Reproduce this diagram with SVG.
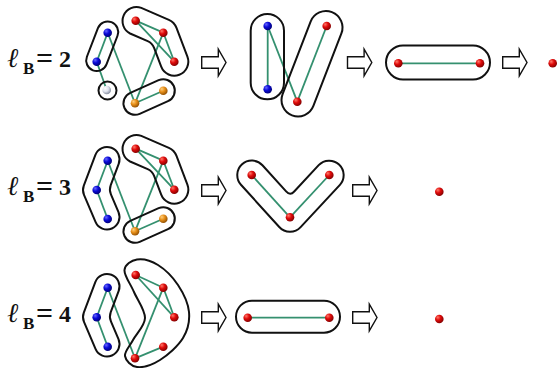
<svg xmlns="http://www.w3.org/2000/svg" width="558" height="368" viewBox="0 0 558 368">
  <defs>
    <radialGradient id="gR" cx="0.38" cy="0.35" r="0.7" fx="0.32" fy="0.3">
      <stop offset="0" stop-color="#ff7a6a"/>
      <stop offset="0.45" stop-color="#e00a0a"/>
      <stop offset="1" stop-color="#7a0000"/>
    </radialGradient>
    <radialGradient id="gB" cx="0.38" cy="0.35" r="0.7" fx="0.32" fy="0.3">
      <stop offset="0" stop-color="#6a6aff"/>
      <stop offset="0.45" stop-color="#0a0ad8"/>
      <stop offset="1" stop-color="#00006e"/>
    </radialGradient>
    <radialGradient id="gO" cx="0.38" cy="0.35" r="0.7" fx="0.32" fy="0.3">
      <stop offset="0" stop-color="#ffd080"/>
      <stop offset="0.45" stop-color="#e8901a"/>
      <stop offset="1" stop-color="#8a4a00"/>
    </radialGradient>
    <radialGradient id="gW" cx="0.38" cy="0.35" r="0.7" fx="0.32" fy="0.3">
      <stop offset="0" stop-color="#ffffff"/>
      <stop offset="0.5" stop-color="#dfe3ee"/>
      <stop offset="1" stop-color="#7c8496"/>
    </radialGradient>
    <!-- hollow block arrow between renormalisation steps -->
    <path id="step" d="M0,-5.8 H16.6 V-13.3 L24.3,0 L16.6,13.3 V5.8 H0 Z"/>
    <!-- bent three-box cluster (row 1 / row 2) -->
    <path id="bend3" d="M130.1,33.5 A14,14 0 0 1 141.3,7.9 L168.9,19.9 A14,14 0 0 1 176.4,27.7 L187.4,56.7 A14,14 0 0 1 161.2,66.7 L154.1,47.8 Q152.3,43.1 147.7,41.1 Z"/>
    <!-- crescent three-box cluster (row 2 / row 3) -->
    <path id="cres3" d="M95.30,155.09 L83.80,185.59 A12.5,12.5 0 0 0 84.00,194.90 L95.50,221.90 A12.5,12.5 0 0 0 118.50,212.10 L110.93,194.31 Q108.97,189.71 110.73,185.03 L118.70,163.91 A12.5,12.5 0 0 0 95.30,155.09 Z"/>
  </defs>
  <style>
    .hull{fill:none;stroke:#111;stroke-width:2}
    .edge{stroke:#34906f;stroke-width:1.8;fill:none}
    .step{fill:#fff;stroke:#111;stroke-width:1.4}
    .r{fill:url(#gR)}
    .b{fill:url(#gB)}
    .o{fill:url(#gO)}
    .w{fill:url(#gW)}
    .lbl{font-family:"Liberation Serif","Times New Roman",serif;font-weight:bold;fill:#111;font-size:24px}
    .ell{font-style:italic;font-weight:normal;font-size:27px}
    .sub{font-size:17px}
    .eq{font-size:30px}
  </style>
  <rect width="558" height="368" fill="#fff"/>

  <!-- row labels -->
  <g id="label-lb2" class="lbl">
    <text class="ell" x="7" y="66.7">ℓ</text>
    <text class="sub" x="23" y="74">B</text>
    <text class="eq" x="36" y="67.5">=</text>
    <text x="59" y="66.7">2</text>
  </g>
  <g id="label-lb3" class="lbl">
    <text class="ell" x="7" y="194.7">ℓ</text>
    <text class="sub" x="23" y="202">B</text>
    <text class="eq" x="36" y="195.5">=</text>
    <text x="59" y="194.7">3</text>
  </g>
  <g id="label-lb4" class="lbl">
    <text class="ell" x="7" y="321.7">ℓ</text>
    <text class="sub" x="23" y="329">B</text>
    <text class="eq" x="36" y="322.5">=</text>
    <text x="59" y="321.7">4</text>
  </g>

  <g id="connectors">
    <g class="edge">
      <!-- row 1, original network -->
      <line x1="107.7" y1="32.7" x2="96.7" y2="61.7"/>
      <line x1="96.7" y1="61.7" x2="106.7" y2="90"/>
      <line x1="107.7" y1="32.7" x2="135" y2="103.3"/>
      <line x1="135.7" y1="20.7" x2="163.3" y2="32.7"/>
      <line x1="135.7" y1="20.7" x2="174.3" y2="61.7"/>
      <line x1="163.3" y1="32.7" x2="174.3" y2="61.7"/>
      <line x1="163.3" y1="32.7" x2="135" y2="103.3"/>
      <line x1="135" y1="103.3" x2="163.3" y2="90.7"/>
      <!-- row 1, first renormalised network -->
      <line x1="267.7" y1="26" x2="267.7" y2="89.3"/>
      <line x1="267.7" y1="26" x2="297.3" y2="101.7"/>
      <line x1="297.3" y1="101.7" x2="326.7" y2="26"/>
      <!-- row 1, second renormalised network -->
      <line x1="398.3" y1="63.3" x2="480" y2="63.3"/>

      <!-- row 2, original network -->
      <line x1="107.7" y1="160.7" x2="96.7" y2="190"/>
      <line x1="96.7" y1="190" x2="107.7" y2="219"/>
      <line x1="107.7" y1="160.7" x2="135" y2="231.3"/>
      <line x1="135.7" y1="148.7" x2="163.3" y2="160.7"/>
      <line x1="135.7" y1="148.7" x2="174.3" y2="189.7"/>
      <line x1="163.3" y1="160.7" x2="174.3" y2="189.7"/>
      <line x1="163.3" y1="160.7" x2="135" y2="231.3"/>
      <line x1="135" y1="231.3" x2="163.3" y2="218.7"/>
      <!-- row 2, renormalised network -->
      <line x1="251.7" y1="175" x2="290" y2="217.3"/>
      <line x1="290" y1="217.3" x2="329.3" y2="175"/>

      <!-- row 3, original network -->
      <line x1="107.7" y1="287.7" x2="96.7" y2="317.3"/>
      <line x1="96.7" y1="317.3" x2="107.7" y2="346.7"/>
      <line x1="107.7" y1="287.7" x2="135" y2="358.3"/>
      <line x1="135.7" y1="275" x2="163.3" y2="287.7"/>
      <line x1="135.7" y1="275" x2="174.3" y2="317.3"/>
      <line x1="163.3" y1="287.7" x2="174.3" y2="317.3"/>
      <line x1="163.3" y1="287.7" x2="135" y2="358.3"/>
      <line x1="135" y1="358.3" x2="163.3" y2="346.7"/>
      <!-- row 3, renormalised network -->
      <line x1="247.7" y1="317.7" x2="329.3" y2="317.7"/>
    </g>
    <!-- step arrows -->
    <g class="step">
      <use href="#step" x="201.7" y="62.5"/>
      <use href="#step" x="347.5" y="62.5"/>
      <use href="#step" x="502.7" y="62.5"/>
      <use href="#step" x="201.7" y="190.5"/>
      <use href="#step" x="352.7" y="190.5"/>
      <use href="#step" x="201.7" y="317.5"/>
      <use href="#step" x="352.7" y="317.5"/>
    </g>
  </g>

  <!-- row 1: l_B = 2 -->
  <g id="r1-box-blue">
    <rect class="hull" x="-25.8" y="-10.5" width="51.6" height="21" rx="10.5" transform="translate(102.2,46.25) rotate(111.1)"/>
    <circle class="b" cx="107.7" cy="32.7" r="4.3"/>
    <circle class="b" cx="96.7" cy="61.7" r="4.3"/>
  </g>
  <g id="r1-box-white">
    <circle class="hull" cx="107.5" cy="90.5" r="9"/>
    <circle class="w" cx="106.7" cy="90" r="4.3"/>
  </g>
  <g id="r1-box-red">
    <use class="hull" href="#bend3"/>
    <circle class="r" cx="135.7" cy="20.7" r="4.3"/>
    <circle class="r" cx="163.3" cy="32.7" r="4.3"/>
    <circle class="r" cx="174.3" cy="61.7" r="4.3"/>
  </g>
  <g id="r1-box-orange">
    <rect class="hull" x="-27" y="-11.5" width="54" height="23" rx="11.5" transform="translate(149.15,97) rotate(-24)"/>
    <circle class="o" cx="163.3" cy="90.7" r="4.3"/>
    <circle class="o" cx="135" cy="103.3" r="4.3"/>
  </g>
  <g id="r1-step1-blue">
    <rect class="hull" x="250.7" y="14" width="33.3" height="85.3" rx="16.65"/>
    <circle class="b" cx="267.7" cy="26" r="4.3"/>
    <circle class="b" cx="267.7" cy="89.3" r="4.3"/>
  </g>
  <g id="r1-step1-red">
    <rect class="hull" x="-55.36" y="-16.5" width="110.72" height="33" rx="16.5" transform="translate(312,63.75) rotate(111.12)"/>
    <circle class="r" cx="326.7" cy="26" r="4.3"/>
    <circle class="r" cx="297.3" cy="101.7" r="4.3"/>
  </g>
  <g id="r1-step2">
    <rect class="hull" x="386" y="45.5" width="104" height="34" rx="17"/>
    <circle class="r" cx="398.3" cy="63.3" r="4.3"/>
    <circle class="r" cx="480" cy="63.3" r="4.3"/>
  </g>
  <g id="r1-step3">
    <circle class="r" cx="552.7" cy="63.3" r="4.3"/>
  </g>

  <!-- row 2: l_B = 3 -->
  <g id="r2-box-blue">
    <use class="hull" href="#cres3"/>
    <circle class="b" cx="107.7" cy="160.7" r="4.3"/>
    <circle class="b" cx="96.7" cy="190" r="4.3"/>
    <circle class="b" cx="107.7" cy="219" r="4.3"/>
  </g>
  <g id="r2-box-red">
    <use class="hull" href="#bend3" y="128"/>
    <circle class="r" cx="135.7" cy="148.7" r="4.3"/>
    <circle class="r" cx="163.3" cy="160.7" r="4.3"/>
    <circle class="r" cx="174.3" cy="189.7" r="4.3"/>
  </g>
  <g id="r2-box-orange">
    <rect class="hull" x="-27" y="-11.5" width="54" height="23" rx="11.5" transform="translate(149.15,225) rotate(-24)"/>
    <circle class="o" cx="163.3" cy="218.7" r="4.3"/>
    <circle class="o" cx="135" cy="231.3" r="4.3"/>
  </g>
  <g id="r2-step1">
    <path class="hull" d="M262.45,165.27 L286.11,191.40 Q290.14,195.85 294.22,191.45 L318.68,165.13 A14.5,14.5 0 0 1 339.92,184.87 L300.62,227.17 A14.5,14.5 0 0 1 279.25,227.03 L240.95,184.73 A14.5,14.5 0 0 1 262.45,165.27 Z"/>
    <circle class="r" cx="251.7" cy="175" r="4.3"/>
    <circle class="r" cx="329.3" cy="175" r="4.3"/>
    <circle class="r" cx="290" cy="217.3" r="4.3"/>
  </g>
  <g id="r2-step2">
    <circle class="r" cx="439.3" cy="191.7" r="4.3"/>
  </g>

  <!-- row 3: l_B = 4 -->
  <g id="r3-box-blue">
    <use class="hull" href="#cres3" y="127"/>
    <circle class="b" cx="107.7" cy="287.7" r="4.3"/>
    <circle class="b" cx="96.7" cy="317.3" r="4.3"/>
    <circle class="b" cx="107.7" cy="346.7" r="4.3"/>
  </g>
  <g id="r3-box-red">
    <path class="hull" d="M137,259.5 C131.42,260.33 125,264.58 124.5,270 C124,275.42 130.58,284 134,292 C137.42,300 145.17,310 145,318 C144.83,326 136.33,333.67 133,340 C129.67,346.33 124.33,351.5 125,356 C125.67,360.5 131.17,366.33 137,367 C142.83,367.67 152.33,364.83 160,360 C167.67,355.17 178.17,346 183,338 C187.830,330 189.83,320.83 189,312 C188.17,303.17 183.17,292.83 178,285 C172.83,277.17 164.83,269.25 158,265 C151.17,260.75 142.58,258.67 137,259.5 Z"/>
    <circle class="r" cx="135.7" cy="275" r="4.3"/>
    <circle class="r" cx="163.3" cy="287.7" r="4.3"/>
    <circle class="r" cx="174.3" cy="317.3" r="4.3"/>
    <circle class="r" cx="163.3" cy="346.7" r="4.3"/>
    <circle class="r" cx="135" cy="358.3" r="4.3"/>
  </g>
  <g id="r3-step1">
    <rect class="hull" x="236" y="300.7" width="104" height="32" rx="16"/>
    <circle class="r" cx="247.7" cy="317.7" r="4.3"/>
    <circle class="r" cx="329.3" cy="317.7" r="4.3"/>
  </g>
  <g id="r3-step2">
    <circle class="r" cx="439.3" cy="319" r="4.3"/>
  </g>
</svg>
